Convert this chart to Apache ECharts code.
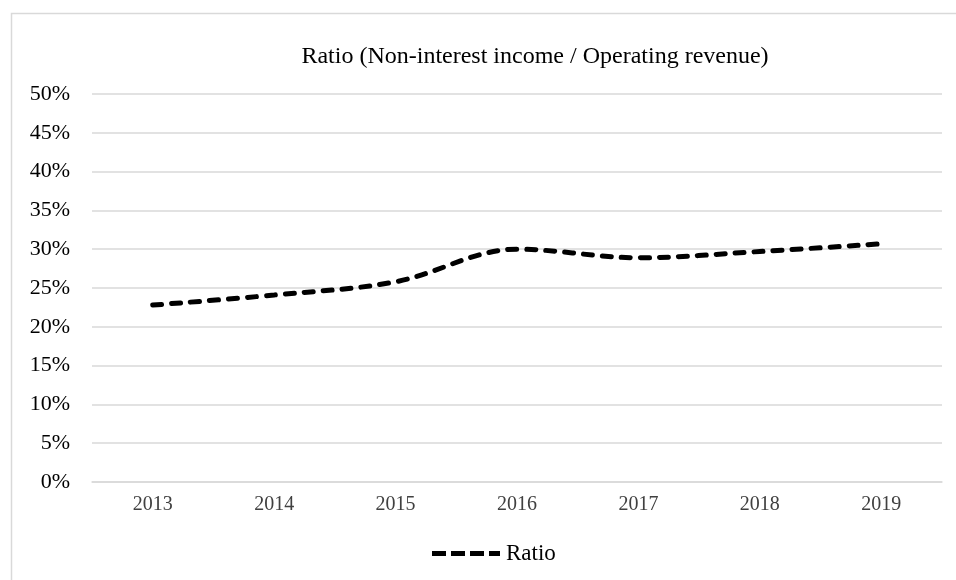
<!DOCTYPE html>
<html>
<head>
<meta charset="utf-8">
<script src="https://cdn.jsdelivr.net/npm/echarts@6/dist/echarts.min.js"></script>
<style>
  html, body { margin: 0; padding: 0; background: #fff; }
  #chart { width: 956px; height: 580px; }
</style>
</head>
<body>
<div id="chart"></div>
<script>
// Share of non-interest income in operating revenue, by year
const years = ['2013', '2014', '2015', '2016', '2017', '2018', '2019'];
const ratio = [22.8, 24.1, 25.8, 30.0, 28.9, 29.7, 30.7];
const yTicks = { min: 0, max: 50, interval: 5 };

const serif = '"Liberation Serif", "DejaVu Serif", serif';

// dashed legend swatch: four short bars
const dashIcon = 'path://M0,0h14v5h-14zM19,0h14v5h-14zM38,0h14v5h-14zM57,0h11v5h-11z';

const chart = echarts.init(document.getElementById('chart'));
chart.setOption({
  backgroundColor: '#ffffff',
  animation: false,
  title: {
    text: 'Ratio (Non-interest income / Operating revenue)',
    left: 530,
    textAlign: 'center',
    top: 40,
    textStyle: { fontFamily: serif, fontSize: 24, fontWeight: 'normal', color: '#000' }
  },
  graphic: [{
    type: 'rect',
    shape: { x: 11.5, y: 13.5, width: 980, height: 620 },
    style: { fill: 'none', stroke: '#d9d9d9', lineWidth: 1.5 },
    silent: true
  }],
  legend: {
    data: [{ name: 'Ratio', icon: dashIcon }],
    bottom: 10,
    left: 427,
    itemWidth: 70,
    itemHeight: 5,
    itemGap: 4,
    textStyle: { fontFamily: serif, fontSize: 23, color: '#000', padding: [0, 0, 0, 0] }
  },
  grid: { left: 92, right: 14, top: 94, bottom: 98 },
  xAxis: {
    type: 'category',
    data: years,
    boundaryGap: true,
    axisLine: { show: true, lineStyle: { color: '#d9d9d9', width: 1.5 } },
    axisTick: { show: false },
    axisLabel: { fontFamily: serif, fontSize: 20, color: '#404040', margin: 13 }
  },
  yAxis: {
    type: 'value',
    min: yTicks.min,
    max: yTicks.max,
    interval: yTicks.interval,
    axisLine: { show: false },
    axisTick: { show: false },
    splitLine: { lineStyle: { color: '#d9d9d9', width: 1.5 } },
    axisLabel: {
      fontFamily: serif, fontSize: 22, color: '#000', margin: 22,
      formatter: v => v + '%'
    }
  },
  series: [{
    name: 'Ratio',
    type: 'line',
    data: ratio,
    smooth: 0.35,
    symbol: 'none',
    lineStyle: { color: '#000', width: 5, type: [9, 10], cap: 'round' },
    itemStyle: { color: '#000' }
  }]
});
</script>
</body>
</html>
